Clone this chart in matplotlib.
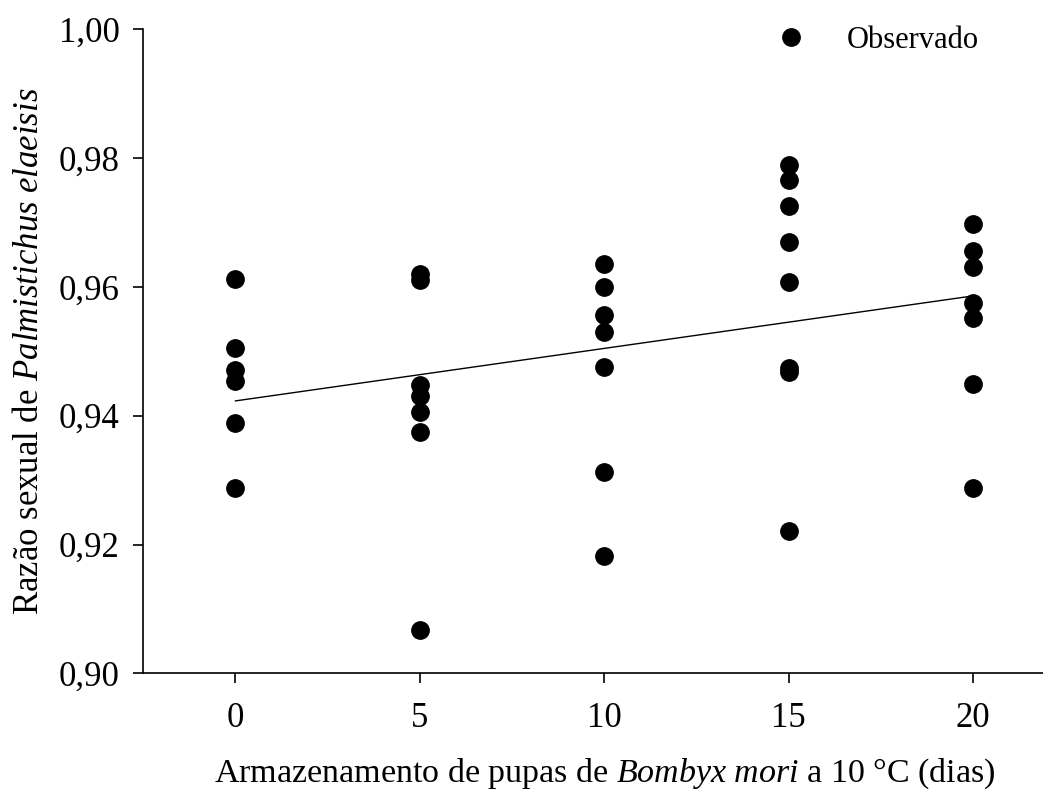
import matplotlib
matplotlib.use('Agg')
import matplotlib.pyplot as plt
import numpy as np

plt.rcParams['font.family'] = ['Liberation Serif', 'DejaVu Serif']
plt.rcParams['mathtext.fontset'] = 'custom'
plt.rcParams['mathtext.rm'] = 'Liberation Serif'
plt.rcParams['mathtext.it'] = 'Liberation Serif:italic'

# dias de armazenamento e razao sexual observada em cada repeticao
dias_0 = [0.9612, 0.9505, 0.9471, 0.9454, 0.9389, 0.9287]
dias_5 = [0.9620, 0.9611, 0.9448, 0.9431, 0.9405, 0.9375, 0.9067]
dias_10 = [0.9636, 0.9600, 0.9556, 0.9530, 0.9475, 0.9312, 0.9182]
dias_15 = [0.9789, 0.9766, 0.9725, 0.9670, 0.9607, 0.9474, 0.9468, 0.9221]
dias_20 = [0.9698, 0.9656, 0.9631, 0.9575, 0.9551, 0.9449, 0.9288]
dias = [0, 5, 10, 15, 20]

# reta ajustada
reta_x = [0, 20]
reta_y = [0.9423, 0.9586]

yticks = [0.90, 0.92, 0.94, 0.96, 0.98, 1.00]
ytick_labels = ['0,90', '0,92', '0,94', '0,96', '0,98', '1,00']

fig = plt.figure(figsize=(10.43, 7.94), dpi=100)
ax = fig.add_axes([0.1374, 0.152, 0.8626, 0.8111])

grupos = [dias_0, dias_5, dias_10, dias_15, dias_20]
xs = np.concatenate([[d] * len(g) for d, g in zip(dias, grupos)])
ys = np.concatenate(grupos)

ax.plot(xs, ys, 'o', color='black', markersize=12.5, label='Observado', zorder=3)
ax.plot(reta_x, reta_y, '-', color='black', linewidth=1.0, zorder=2)

ax.set_xlim(-2.5, 21.9)
ax.set_ylim(0.90, 1.00)
ax.set_xticks(dias)
ax.set_xticklabels([str(d) for d in dias])
ax.set_yticks(yticks)
ax.set_yticklabels(ytick_labels)

for s in ['top', 'right']:
    ax.spines[s].set_visible(False)
for s in ['left', 'bottom']:
    ax.spines[s].set_linewidth(1.2)

ax.tick_params(axis='both', labelsize=25, width=1.2, length=7, direction='out')
ax.tick_params(axis='y', pad=10)
ax.tick_params(axis='x', pad=14)

ax.set_xlabel(r'Armazenamento de pupas de $\it{Bombyx\ mori}$ a 10 °C (dias)', fontsize=24.5, labelpad=15)
ax.xaxis.label.set_x(0.513)
ax.set_ylabel(r'Razão sexual de $\it{Palmistichus\ elaeisis}$', fontsize=25, labelpad=9)

ax.legend(loc='center left', bbox_to_anchor=(0.703, 0.983), frameon=False, fontsize=22,
          handlelength=1.0, handletextpad=1.33, borderpad=0, borderaxespad=0, numpoints=1)

fig.savefig('out.png', dpi=100)
